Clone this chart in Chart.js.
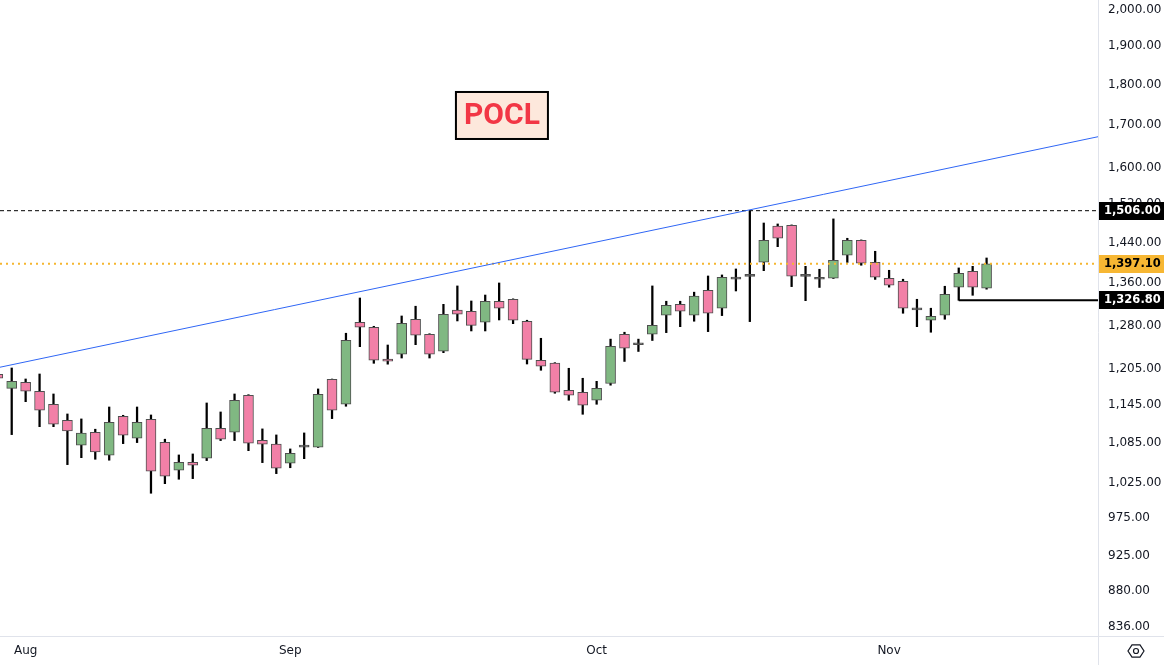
<!DOCTYPE html>
<html>
<head>
<meta charset="utf-8">
<script src="https://cdn.jsdelivr.net/npm/chart.js@4.4.1/dist/chart.umd.min.js"></script>
<style>
    html, body { margin: 0; padding: 0; background: #fff; }
    #wrap { width: 1164px; height: 665px; position: relative; }
</style>
</head>
<body>
<div id="wrap"><canvas id="chart"></canvas></div>
<script>
// daily candles, first one (index -1) is cut by the left edge
const firstIndex = -1;
const open = [1195, 1171.5, 1181.6, 1166.7, 1145.4, 1119.8, 1081.0, 1101.0, 1065.8, 1126.1, 1091.7, 1121.4, 1085.4, 1043.4, 1055.3, 1061.2, 1107.2, 1101.0, 1160.1, 1088.6, 1082.6, 1053.8, 1078.0, 1078.1, 1186.6, 1145.4, 1286.2, 1277.1, 1221.1, 1229.3, 1291.7, 1264.6, 1234.5, 1308.4, 1306.4, 1286.2, 1325.0, 1328.7, 1288.1, 1218.9, 1214.3, 1168.3, 1165.0, 1151.9, 1179.6, 1264.6, 1246.0, 1264.6, 1299.1, 1319.4, 1299.1, 1345.7, 1312.0, 1367.0, 1372.3, 1400.1, 1473.4, 1475.4, 1372.4, 1366.8, 1368.8, 1414.0, 1444.3, 1400.1, 1368.8, 1363.0, 1309.0, 1289.9, 1299.1, 1351.7, 1382.3, 1349.7];
const high = [1197, 1205.7, 1187.1, 1195.5, 1162.2, 1129.8, 1121.9, 1105.7, 1141.0, 1127.7, 1141.0, 1128.2, 1090.2, 1066.2, 1067.7, 1147.5, 1133.0, 1162.2, 1161.0, 1106.2, 1096.8, 1075.3, 1099.9, 1170.5, 1187.0, 1266.4, 1331.1, 1278.9, 1245.5, 1297.7, 1315.7, 1265.5, 1319.2, 1354.0, 1325.5, 1336.7, 1359.7, 1329.5, 1289.9, 1257.4, 1214.8, 1205.2, 1188.3, 1183.2, 1255.9, 1268.2, 1255.9, 1354.0, 1325.0, 1325.0, 1342.1, 1373.2, 1375.2, 1386.9, 1506.0, 1480.0, 1478.0, 1476.0, 1392.1, 1386.3, 1488.6, 1448.4, 1445.0, 1422.0, 1384.3, 1366.9, 1328.7, 1312.0, 1353.4, 1388.9, 1392.1, 1408.6];
const low = [1185.4, 1097.3, 1149.6, 1109.7, 1109.7, 1051.7, 1062.1, 1059.7, 1058.3, 1083.4, 1085.0, 1010.0, 1023.8, 1030.2, 1031.1, 1057.7, 1088.1, 1088.1, 1072.7, 1054.7, 1038.4, 1047.1, 1060.6, 1077.5, 1122.4, 1142.2, 1242.6, 1213.7, 1212.2, 1222.8, 1246.1, 1222.8, 1232.1, 1288.6, 1270.5, 1270.5, 1290.4, 1283.7, 1212.5, 1201.8, 1163.4, 1151.9, 1129.3, 1145.4, 1176.7, 1216.9, 1234.2, 1253.5, 1267.5, 1278.2, 1288.1, 1269.3, 1298.4, 1344.4, 1287.4, 1383.5, 1431.3, 1352.7, 1326.1, 1351.1, 1368.3, 1399.8, 1394.2, 1366.5, 1351.7, 1302.7, 1278.2, 1268.2, 1291.7, 1326.8, 1336.2, 1347.8];
const close = [1188.3, 1183.2, 1166.7, 1135.7, 1113.5, 1103.0, 1099.5, 1070.8, 1116.7, 1096.3, 1116.7, 1041.9, 1034.5, 1055.3, 1050.8, 1107.2, 1090.2, 1151.9, 1084.0, 1082.6, 1046.3, 1068.8, 1078.5, 1161.7, 1135.7, 1253.9, 1277.1, 1218.9, 1217.2, 1284.4, 1262.8, 1229.3, 1300.9, 1300.9, 1280.7, 1325.0, 1312.0, 1289.9, 1220.6, 1208.6, 1165.0, 1160.1, 1143.8, 1171.5, 1243.3, 1239.8, 1246.5, 1280.7, 1317.5, 1306.4, 1334.6, 1302.7, 1370.7, 1367.4, 1372.6, 1444.3, 1448.4, 1372.6, 1372.6, 1366.9, 1404.0, 1444.3, 1398.1, 1370.7, 1355.5, 1312.0, 1309.4, 1297.2, 1338.0, 1378.5, 1351.7, 1397.1];

const monthLabels = ["Aug", "Sep", "Oct", "Nov"];
const monthTicks = [1, 20, 42, 63];
const priceTicks = [836, 880, 925, 975, 1025, 1085, 1145, 1205, 1280, 1360, 1440, 1520, 1600, 1700, 1800, 1900, 2000];

const resistance = 1506.00;
const lastPrice = 1397.10;
const support = 1326.80;
const supportFrom = 68;
const trendX = [-0.841, 78];
const trendY = [1207, 1672];

const xMin = -0.841, xMax = 78.0;
const UP = "#80b882", DOWN = "#f280a7", EDGE = "#4f4f4f", TEXT = "#131722", LINE = "#e0e3eb";
const FONT = "'DejaVu Sans', Verdana, sans-serif";

const fmt = (v) => Number(v).toLocaleString("en-US", { minimumFractionDigits: 2, maximumFractionDigits: 2 });

const xs = open.map((_, i) => i + firstIndex);
const bodyColors = open.map((o, i) => {
    if (Math.abs(close[i] - o) < 1) return EDGE;
    return close[i] >= o ? UP : DOWN;
});

const overlay = {
    id: "overlay",
    afterDraw(chart) {
        const { ctx, chartArea, scales } = chart;
        const y = scales.y;
        ctx.save();

        // separators
        ctx.strokeStyle = LINE;
        ctx.lineWidth = 1;
        ctx.beginPath();
        ctx.moveTo(0, chartArea.bottom + 0.5);
        ctx.lineTo(chart.width, chartArea.bottom + 0.5);
        ctx.moveTo(chartArea.right + 0.5, 0);
        ctx.lineTo(chartArea.right + 0.5, chart.height);
        ctx.stroke();

        // price tags on the axis
        const tags = [
            { v: resistance, bg: "#000", fg: "#fff" },
            { v: lastPrice, bg: "#f7b733", fg: "#000" },
            { v: support, bg: "#000", fg: "#fff" }
        ];
        ctx.font = `bold 11.5px ${FONT}`;
        ctx.textBaseline = "middle";
        ctx.textAlign = "left";
        tags.forEach((t) => {
            const py = Math.round(y.getPixelForValue(t.v));
            ctx.fillStyle = t.bg;
            ctx.fillRect(chartArea.right + 1, py - 9, chart.width - chartArea.right, 18);
            ctx.fillStyle = t.fg;
            ctx.fillText(fmt(t.v), chartArea.right + 6, py + 0.5);
        });

        // POCL label
        const cx = scales.x.getPixelForValue(35.2);
        const cy = y.getPixelForValue(1723);
        const w = 92, h = 47;
        ctx.fillStyle = "#fde8dc";
        ctx.fillRect(cx - w / 2, cy - h / 2, w, h);
        ctx.strokeStyle = "#000";
        ctx.lineWidth = 2;
        ctx.strokeRect(cx - w / 2, cy - h / 2, w, h);
        ctx.fillStyle = "#f23645";
        ctx.font = "bold 30px Roboto, sans-serif";
        ctx.textAlign = "center";
        ctx.fillText("POCL", cx, cy + 1);

        // settings icon
        const ix = 1136, iy = 651;
        ctx.strokeStyle = TEXT;
        ctx.lineWidth = 1.2;
        ctx.beginPath();
        for (let k = 0; k < 6; k++) {
            const a = Math.PI / 3 * k;
            const px = ix + Math.cos(a) * 8, py = iy + Math.sin(a) * 7;
            if (k === 0) ctx.moveTo(px, py); else ctx.lineTo(px, py);
        }
        ctx.closePath();
        ctx.stroke();
        ctx.beginPath();
        ctx.arc(ix, iy, 2.5, 0, Math.PI * 2);
        ctx.stroke();

        ctx.restore();
    }
};

new Chart(document.getElementById("chart"), {
    type: "bar",
    data: {
        datasets: [
            {
                type: "line",
                data: [{ x: trendX[0], y: trendY[0] }, { x: trendX[1], y: trendY[1] }],
                borderColor: "#2f66f5", borderWidth: 1, pointRadius: 0, order: 0
            },
            {
                type: "line",
                data: [{ x: xMin, y: resistance }, { x: xMax, y: resistance }],
                borderColor: "#000", borderWidth: 1, borderDash: [4, 3], pointRadius: 0, order: 0
            },
            {
                type: "line",
                data: [{ x: xMin, y: lastPrice }, { x: xMax, y: lastPrice }],
                borderColor: "#f5b630", borderWidth: 2, borderDash: [2, 4], pointRadius: 0, order: 0
            },
            {
                type: "line",
                data: [{ x: supportFrom, y: support }, { x: xMax, y: support }],
                borderColor: "#000", borderWidth: 2, pointRadius: 0, order: 0
            },
            {
                type: "bar",
                data: xs.map((x, i) => ({ x, y: [open[i], close[i]] })),
                backgroundColor: bodyColors,
                borderColor: EDGE,
                borderWidth: 1,
                borderSkipped: false,
                barThickness: 10,
                minBarLength: 2,
                grouped: false,
                order: 1
            },
            {
                type: "bar",
                data: xs.map((x, i) => ({ x, y: [low[i], high[i]] })),
                backgroundColor: "#000",
                borderWidth: 0,
                barThickness: 1.6,
                grouped: false,
                order: 2
            }
        ]
    },
    options: {
        responsive: true,
        maintainAspectRatio: false,
        animation: false,
        layout: { padding: 0 },
        plugins: { legend: { display: false }, tooltip: { enabled: false } },
        scales: {
            x: {
                type: "linear",
                min: xMin,
                max: xMax,
                offset: false,
                grid: { display: false, drawTicks: false },
                border: { display: false },
                ticks: {
                    autoSkip: false, maxRotation: 0, padding: 8, color: TEXT,
                    font: { family: FONT, size: 12 },
                    callback: (v, i) => monthLabels[i]
                },
                afterBuildTicks: (s) => { s.ticks = monthTicks.map((v) => ({ value: v })); },
                afterFit: (s) => { s.height = 29; s.paddingLeft = 0; s.paddingRight = 0; }
            },
            y: {
                type: "logarithmic",
                position: "right",
                min: 825.4,
                max: 2028.6,
                beginAtZero: false,
                grid: { display: false, drawTicks: false },
                border: { display: false },
                ticks: {
                    autoSkip: false, padding: 10, color: TEXT,
                    font: { family: FONT, size: 12 },
                    callback: (v) => fmt(v)
                },
                afterBuildTicks: (s) => { s.ticks = priceTicks.map((v) => ({ value: v })); },
                afterFit: (s) => { s.width = 66; s.paddingTop = 0; s.paddingBottom = 0; }
            }
        }
    },
    plugins: [overlay]
});
</script>
</body>
</html>
